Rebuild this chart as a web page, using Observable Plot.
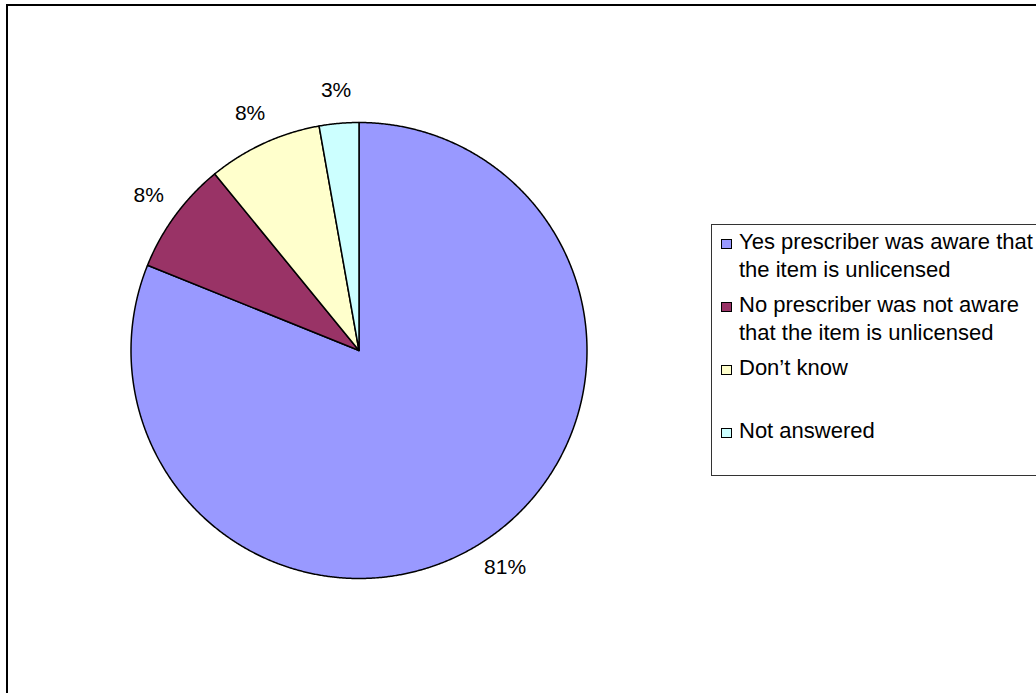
<!DOCTYPE html>
<html>
<head>
<meta charset="utf-8">
<script src="https://cdn.jsdelivr.net/npm/d3@7"></script>
<script src="https://cdn.jsdelivr.net/npm/@observablehq/plot@0.6"></script>
<style>
  html, body { margin: 0; padding: 0; background: #fff; }
  #wrap { position: relative; width: 1036px; height: 693px; overflow: hidden; font-family: "Liberation Sans", Arial, sans-serif; }
  #wrap svg { position: absolute; left: 0; top: 0; }
  #frame { position: absolute; left: 6px; top: 4px; width: 1200px; height: 900px; border: 2px solid #000; pointer-events: none; }
  #legend { position: absolute; left: 711px; top: 224px; width: 420px; height: 252px; border: 1px solid #333; background: #fff; box-sizing: border-box; }
  .item { position: absolute; left: 0; font-size: 22px; line-height: 28px; white-space: pre-line; color: #000; }
  .sw { position: absolute; left: 9px; top: 11px; width: 9px; height: 8px; border: 1.5px solid #000; }
  .lbl { position: absolute; left: 27px; top: 0; white-space: pre; }
</style>
</head>
<body>
<div id="wrap"></div>
<script>
// ---- data ----
const categories = [
  "Yes prescriber was aware that\nthe item is unlicensed",
  "No prescriber was not aware\nthat the item is unlicensed",
  "Don\u2019t know",
  "Not answered"
];
const shares = [81.1, 8.0, 8.1, 2.8];
const percentLabels = ["81%", "8%", "8%", "3%"];
const colors = ["#9999FF", "#993366", "#FFFFCC", "#CCFFFF"];

// ---- build pie geometry from data ----
const arcs = d3.pie().sort(null).value(d => d.v)(categories.map((c, i) => ({c, v: shares[i], i})));
const polyPts = [];
arcs.forEach(a => {
  const c = a.data.c;
  polyPts.push({c, x: 0, y: 0});
  const n = Math.max(4, Math.ceil((a.endAngle - a.startAngle) / 0.005));
  for (let k = 0; k <= n; k++) {
    const t = a.startAngle + (a.endAngle - a.startAngle) * k / n;
    polyPts.push({c, x: Math.sin(t), y: Math.cos(t)});
  }
  polyPts.push({c, x: 0, y: 0});
});
const labelR = 1.145;
const labelPts = arcs.map(a => {
  const m = (a.startAngle + a.endAngle) / 2;
  return {x: labelR * Math.sin(m), y: labelR * Math.cos(m), t: percentLabels[a.data.i]};
});

const plot = Plot.plot({
  width: 1036,
  height: 693,
  margin: 0,
  style: {background: "transparent", fontFamily: "Liberation Sans, Arial, sans-serif"},
  x: {domain: [-1, 1], range: [130.5, 586.5], axis: null},
  y: {domain: [-1, 1], range: [578, 122], axis: null},
  color: {domain: categories, range: colors},
  marks: [
    Plot.line(polyPts, {x: "x", y: "y", z: "c", fill: "c", stroke: "#000", strokeWidth: 1.5, strokeLinejoin: "round", curve: "linear"}),
    Plot.text(labelPts, {x: "x", y: "y", text: "t", fontSize: 21, fill: "#000", textAnchor: "middle", lineAnchor: "middle"})
  ]
});

const wrap = document.getElementById("wrap");
wrap.appendChild(plot);
const frame = document.createElement("div");
frame.id = "frame";
wrap.appendChild(frame);

const legend = document.createElement("div");
legend.id = "legend";
categories.forEach((c, i) => {
  const it = document.createElement("div");
  it.className = "item";
  it.style.top = (3 + i * 63) + "px";
  const sw = document.createElement("div");
  sw.className = "sw";
  sw.style.background = colors[i];
  const lb = document.createElement("div");
  lb.className = "lbl";
  lb.textContent = c;
  it.appendChild(sw);
  it.appendChild(lb);
  legend.appendChild(it);
});
wrap.appendChild(legend);
</script>
</body>
</html>
